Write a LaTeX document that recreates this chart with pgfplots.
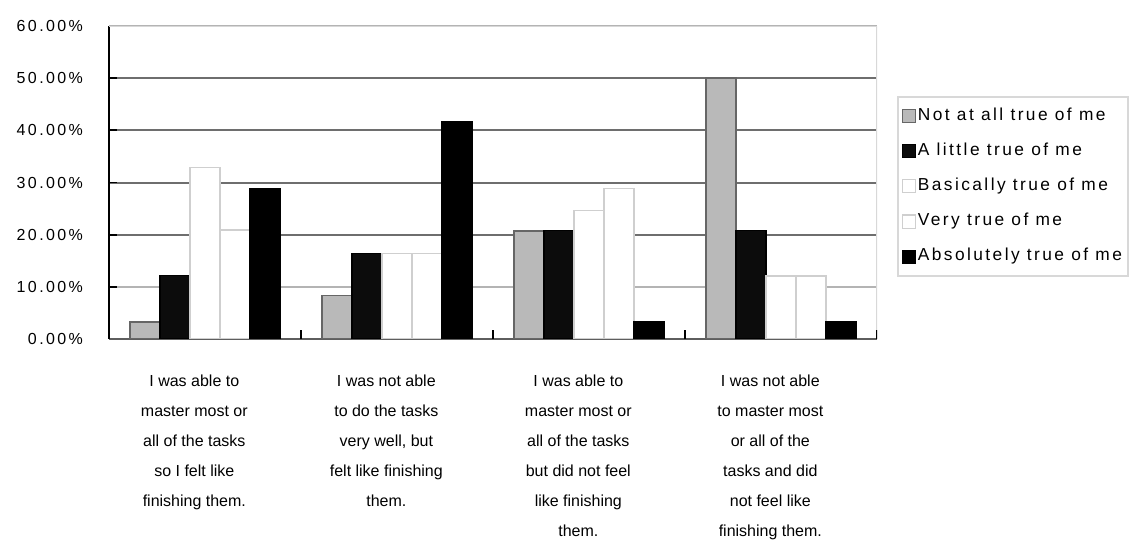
\documentclass[border=0pt]{standalone}
\usepackage{fontspec}
\setmainfont{Liberation Sans}
\newfontfamily\legfont[LetterSpace=14]{Liberation Sans}
\newfontfamily\yfont[LetterSpace=15]{Liberation Sans}
\usepackage{pgfplots}
\pgfplotsset{compat=1.18}
\definecolor{gridc}{HTML}{6E6E6E}
\definecolor{gridl}{HTML}{B4B4B4}
\definecolor{bordl}{HTML}{D8D8D8}
\definecolor{grayfill}{HTML}{B9B9B9}
\definecolor{grayedge}{HTML}{666666}
\definecolor{blk}{HTML}{0C0C0C}
\definecolor{whedge}{HTML}{CFCFCF}
\definecolor{axisb}{HTML}{5E5E5E}
\begin{document}
\begin{tikzpicture}
\useasboundingbox (0,0) rectangle (858.75pt,406.5pt);
\begin{axis}[
  at={(81.75pt,152.25pt)}, anchor=south west,
  scale only axis, width=576pt, height=234.75pt,
  xmin=-0.5, xmax=3.5, ymin=0, ymax=60,
  enlargelimits=false,
  ybar=0pt, bar width=22.5pt,
  axis x line*=bottom, axis y line*=left,
  x axis line style={-, draw=axisb, line width=1.5pt},
  y axis line style={-, draw=black, line width=1.5pt},
  tick style={draw=none},
  ytick={0,20,30,40,50},
  extra y ticks={10,60},
  extra y tick style={grid style={draw=gridl, line width=1.5pt}},
  ymajorgrids,
  grid style={draw=gridc, line width=1.5pt},
  yticklabel={\pgfmathprintnumber[fixed,fixed zerofill,precision=2,assume math mode=true]{\tick}\%},
  yticklabel style={font=\yfont\fontsize{12}{14}\selectfont, xshift=-16pt},
  xtick={0,1,2,3},
  xticklabels={
    {I was able to\\master most or\\all of the tasks\\so I felt like\\finishing them.},
    {I was not able\\to do the tasks\\very well, but\\felt like finishing\\them.},
    {I was able to\\master most or\\all of the tasks\\but did not feel\\like finishing\\them.},
    {I was not able\\to master most\\or all of the\\tasks and did\\not feel like\\finishing them.}},
  xticklabel style={align=center, font=\fontsize{12}{22.5}\selectfont, yshift=-19pt, xshift=-8pt},
  legend style={at={(rel axis cs:1.026,0.776)}, anchor=north west,
    draw=bordl, line width=1.3pt, inner xsep=3pt, inner ysep=7pt,
    font=\legfont\fontsize{13}{15}\selectfont,
    row sep=12pt,
    nodes={inner sep=1.5pt, text height=8.8pt, text depth=2.6pt}},
  legend cell align=left,
  legend image code/.code={\draw[#1, line width=0.8pt] (0pt,-4.9pt) rectangle (9.75pt,4.9pt);},
]
\addplot[fill=grayfill, draw=grayedge, line width=1.1pt] coordinates {(0,3.3) (1,8.3) (2,20.7) (3,50.0)};
\addplot[fill=blk, draw=black, line width=1.1pt] coordinates {(0,12.2) (1,16.4) (2,20.8) (3,20.8)};
\addplot[fill=white, draw=whedge, line width=1.1pt] coordinates {(0,32.9) (1,16.4) (2,24.6) (3,12.1)};
\addplot[fill=white, draw=whedge, line width=1.1pt] coordinates {(0,20.9) (1,16.4) (2,28.9) (3,12.1)};
\addplot[fill=black, draw=black, line width=1.1pt] coordinates {(0,28.9) (1,41.6) (2,3.4) (3,3.4)};
\legend{Not at all true of me, A little true of me, Basically true of me, Very true of me, Absolutely true of me}
\draw[draw=bordl, line width=1.5pt] (rel axis cs:1,0) -- (rel axis cs:1,1);
\draw[draw=bordl, line width=1.5pt] (rel axis cs:0,1) -- (rel axis cs:1,1);
\pgfplotsinvokeforeach{0.5,1.5,2.5,3.5}{\draw[black, line width=1.3pt] (axis cs:#1,0) -- ([yshift=7pt]axis cs:#1,0);}
\pgfplotsinvokeforeach{10,20,30,40,50}{\draw[black, line width=1.3pt] (axis cs:-0.5,#1) -- ([xshift=6pt]axis cs:-0.5,#1);}
\end{axis}
\end{tikzpicture}
\end{document}
